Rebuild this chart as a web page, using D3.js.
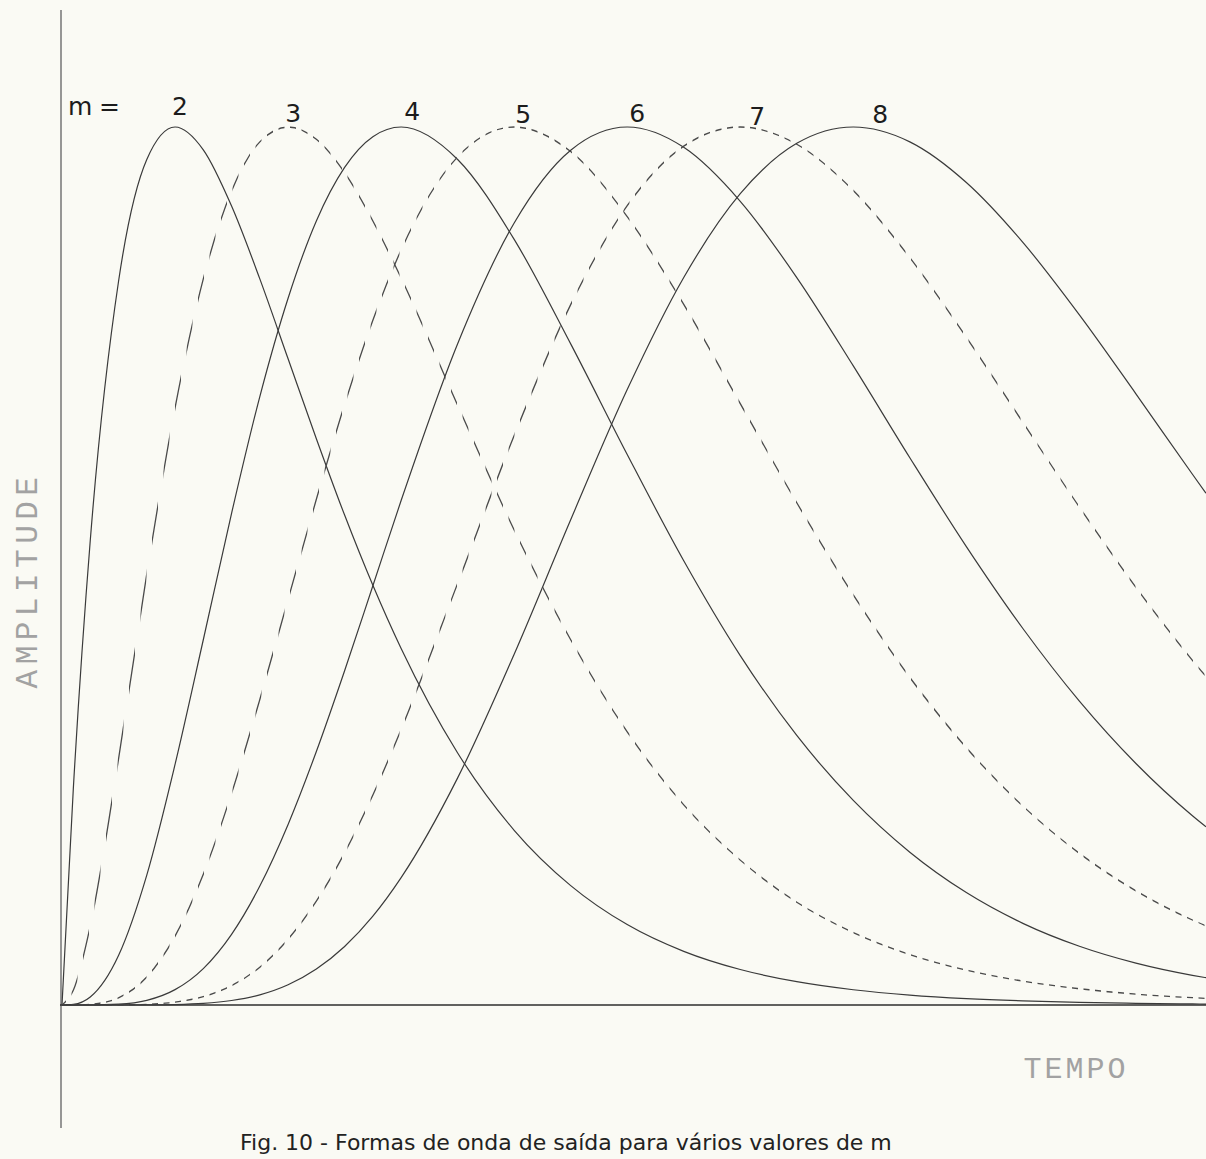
<!DOCTYPE html>
<html>
<head>
<meta charset="utf-8">
<script src="https://cdn.jsdelivr.net/npm/d3@7/dist/d3.min.js"></script>
<style>
  html, body { margin: 0; padding: 0; background: #fafaf4; }
  svg { display: block; }
</style>
</head>
<body>
<script>
// Normalised pulse shapes for orders m = 2 … 8 against time (units of the time constant)
const tValues = [0, 0.1, 0.25, 0.5, 0.75, 1, 1.25, 1.5, 1.75, 2, 2.25, 2.5, 2.75, 3,
  3.5, 4, 4.5, 5, 5.5, 6, 6.5, 7, 7.5, 8, 8.5, 9, 9.5, 10, 10.12];

const orders = [2, 3, 4, 5, 6, 7, 8];
const orderLabels = ["2", "3", "4", "5", "6", "7", "8"];

const ampM2 = [0, 0.246, 0.529, 0.824, 0.963, 1, 0.974, 0.910, 0.827, 0.736, 0.645, 0.558, 0.478, 0.406,
  0.287, 0.199, 0.136, 0.0916, 0.0611, 0.0404, 0.0266, 0.0174, 0.0113, 0.0073, 0.0047, 0.0030, 0.0019, 0.0012, 0.0011];
const ampM3 = [0, 0.0167, 0.0899, 0.280, 0.491, 0.680, 0.827, 0.927, 0.983, 1, 0.986, 0.948, 0.893, 0.828,
  0.683, 0.541, 0.416, 0.311, 0.228, 0.165, 0.117, 0.0825, 0.0575, 0.0397, 0.0272, 0.0185, 0.0125, 0.0084, 0.0076];
const ampM4 = [0, 0.0007, 0.0091, 0.0564, 0.148, 0.274, 0.416, 0.560, 0.693, 0.805, 0.893, 0.954, 0.989, 1,
  0.963, 0.872, 0.753, 0.627, 0.506, 0.398, 0.307, 0.233, 0.174, 0.128, 0.0930, 0.0669, 0.0477, 0.0338, 0.0311];
const ampM5 = [0, 0, 0.0007, 0.0081, 0.0319, 0.0785, 0.149, 0.241, 0.348, 0.462, 0.576, 0.684, 0.780, 0.860,
  0.966, 1, 0.972, 0.898, 0.798, 0.685, 0.572, 0.467, 0.373, 0.293, 0.2265, 0.1727, 0.1300, 0.0968, 0.0901];
const ampM6 = [0, 0, 0, 0.0009, 0.0053, 0.0175, 0.0415, 0.0805, 0.1355, 0.2057, 0.2887, 0.3807, 0.4775, 0.5746,
  0.7532, 0.8907, 0.9736, 1, 0.9768, 0.9154, 0.8285, 0.7279, 0.6233, 0.5221, 0.4288, 0.3461, 0.2751, 0.2156, 0.2030];
const ampM7 = [0, 0, 0, 0.0001, 0.0007, 0.0032, 0.0094, 0.0220, 0.0431, 0.0749, 0.1182, 0.1733, 0.2391, 0.3138,
  0.4802, 0.6487, 0.7977, 0.9104, 0.9782, 1, 0.9804, 0.9277, 0.8512, 0.7604, 0.6636, 0.5671, 0.4757, 0.3926, 0.3741];
const ampM8 = [0, 0, 0, 0, 0.0001, 0.0005, 0.0018, 0.0051, 0.0116, 0.0231, 0.0410, 0.0667, 0.1012, 0.1451,
  0.2587, 0.3996, 0.5527, 0.7009, 0.8286, 0.9240, 0.9814, 1, 0.9831, 0.9368, 0.8686, 0.7860, 0.6961, 0.6045, 0.5829];

const amplitudes = [ampM2, ampM3, ampM4, ampM5, ampM6, ampM7, ampM8];

const yTitle = "AMPLITUDE";
const xTitle = "TEMPO";
const caption = "Fig. 10 - Formas de onda de saída para vários valores de m";

// ---- layout ----
const W = 1206, H = 1159;
const x = d3.scaleLinear().domain([0, 10.12]).range([62, 1206]);
const y = d3.scaleLinear().domain([0, 1]).range([1005, 127]);

const svg = d3.select("body").append("svg")
  .attr("width", W).attr("height", H)
  .style("background", "#fafaf4");

// stripes in x that turn a curve into a plotter-style dashed line
const defs = svg.append("defs");
const clip = defs.append("clipPath").attr("id", "dash-clip");
const period = 11.5, onWidth = 6;
d3.range(x(0) - 2, W, period).forEach(px => {
  clip.append("rect").attr("x", px).attr("y", 0).attr("width", onWidth).attr("height", H);
});

// axes
svg.append("line")
  .attr("x1", x(0) - 1).attr("x2", x(0) - 1)
  .attr("y1", 10).attr("y2", 1128)
  .attr("stroke", "#7d7d7d").attr("stroke-width", 1.6);

svg.append("line")
  .attr("x1", x(0) - 2).attr("x2", W)
  .attr("y1", y(0)).attr("y2", y(0))
  .attr("stroke", "#2e2e2e").attr("stroke-width", 1.5);

// curves
const line = d3.line()
  .x(d => x(d.t))
  .y(d => y(d.v))
  .curve(d3.curveMonotoneX);

const series = orders.map((m, i) => ({
  m,
  label: orderLabels[i],
  points: tValues.map((t, j) => ({ t, v: amplitudes[i][j] }))
}));

svg.append("g").selectAll("path")
  .data(series)
  .join("path")
  .attr("d", d => line(d.points))
  .attr("fill", "none")
  .attr("stroke", d => d.m % 2 === 1 ? "#4a4a4a" : "#3a3a3a")
  .attr("stroke-width", d => d.m % 2 === 1 ? 1.3 : 1.2)
  .attr("clip-path", d => d.m % 2 === 1 ? "url(#dash-clip)" : null);

// order labels above each peak
const labelDx = [5, 5, 11, 9, 10, 17, 27];
const labelBase = [115, 122, 120, 123, 122, 125, 123];
const labels = svg.append("g")
  .attr("font-family", "'DejaVu Sans', sans-serif")
  .attr("font-size", 25)
  .attr("fill", "#1c1c1c");

labels.append("text").attr("x", 68).attr("y", 115).text("m");
labels.append("text").attr("x", 99).attr("y", 115).text("=");

labels.selectAll("text.order")
  .data(series)
  .join("text")
  .attr("class", "order")
  .attr("text-anchor", "middle")
  .attr("x", (d, i) => x(d3.greatest(d.points, p => p.v).t) + labelDx[i])
  .attr("y", (d, i) => labelBase[i])
  .text(d => d.label);

// axis titles
svg.append("text")
  .attr("transform", `translate(37, ${(y(0) + y(1)) / 2 + 14}) rotate(-90)`)
  .attr("text-anchor", "middle")
  .attr("font-family", "'Liberation Mono', 'DejaVu Sans Mono', monospace")
  .attr("font-size", 31)
  .attr("letter-spacing", 5.5)
  .attr("fill", "#a2a2a2")
  .text(yTitle);

svg.append("text")
  .attr("x", 1076).attr("y", 1078)
  .attr("text-anchor", "middle")
  .attr("font-family", "'Liberation Mono', 'DejaVu Sans Mono', monospace")
  .attr("font-size", 30)
  .attr("letter-spacing", 3)
  .attr("fill", "#a2a2a2")
  .text(xTitle);

// figure caption along the lower edge of the sheet
svg.append("text")
  .attr("x", 240).attr("y", 1150)
  .attr("font-family", "'DejaVu Sans', sans-serif")
  .attr("font-size", 22)
  .attr("fill", "#222")
  .text(caption);
</script>
</body>
</html>
